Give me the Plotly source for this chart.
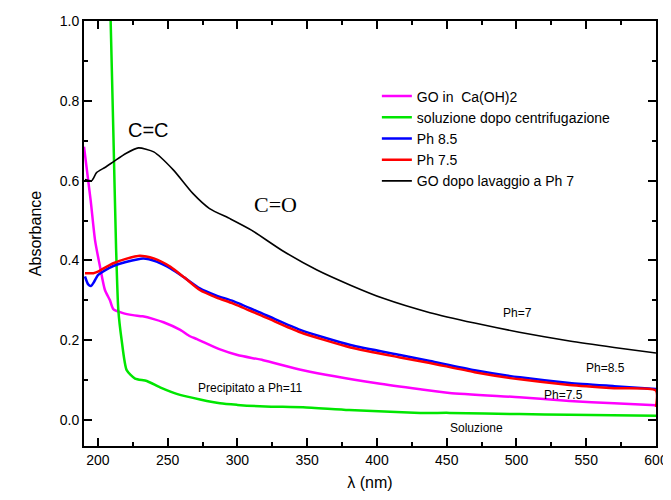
import plotly.graph_objects as go

# ---------------- data ----------------
mag_x = [190, 194.8, 197.9, 201.5, 205, 208.6, 211, 218, 225, 232, 240, 247, 259, 266, 271, 287.5, 300, 318.5, 347, 400, 431, 452, 502, 538, 570, 600]
mag_y = [0.685, 0.55, 0.451, 0.384, 0.326, 0.30, 0.278, 0.268, 0.263, 0.260, 0.253, 0.245, 0.226, 0.21, 0.203, 0.177, 0.163, 0.150, 0.125, 0.092, 0.077, 0.068, 0.057, 0.048, 0.042, 0.037]

grn_x = [208, 209.1, 211, 213, 214.6, 217, 220.6, 226.6, 235, 244.5, 258.8, 287.5, 300, 320, 347, 380, 431, 452, 502, 538, 600]
grn_y = [1.15, 1.0, 0.727, 0.43, 0.276, 0.2, 0.125, 0.104, 0.098, 0.082, 0.063, 0.042, 0.038, 0.034, 0.032, 0.025, 0.018, 0.018, 0.015, 0.013, 0.011]

blu_x = [190.7, 193, 195, 197, 200, 205, 211, 220, 232.5, 242, 252, 262, 273, 285, 297, 321, 345, 381, 416.5, 438, 470, 502.5, 538, 570, 600]
blu_y = [0.36, 0.34, 0.336, 0.345, 0.363, 0.375, 0.386, 0.396, 0.405, 0.397, 0.38, 0.357, 0.33, 0.312, 0.298, 0.262, 0.226, 0.188, 0.163, 0.148, 0.125, 0.107, 0.093, 0.085, 0.078]

red_x = [190.7, 196.7, 200, 205, 211, 220, 230, 240, 252, 262, 273, 285, 297, 321, 345, 381, 416.5, 438, 470, 502.5, 538, 570, 600, 600]
red_y = [0.368, 0.368, 0.372, 0.382, 0.393, 0.404, 0.412, 0.405, 0.384, 0.357, 0.326, 0.307, 0.292, 0.256, 0.22, 0.182, 0.157, 0.143, 0.12, 0.102, 0.088, 0.08, 0.074, 0.033]

blk_x = [190.7, 195.5, 199, 205, 211, 220, 229, 240, 254, 268, 280, 295, 310, 332, 357, 381, 404.5, 438, 470, 502, 538, 570, 600]
blk_y = [0.603, 0.600, 0.620, 0.633, 0.647, 0.668, 0.682, 0.672, 0.627, 0.568, 0.530, 0.504, 0.476, 0.425, 0.376, 0.338, 0.305, 0.269, 0.243, 0.22, 0.198, 0.182, 0.168]

names = ["GO in\u00a0 Ca(OH)2", "soluzione dopo centrifugazione", "Ph 8.5", "Ph 7.5", "GO dopo lavaggio a Ph 7"]
colors = ["#FF00FF", "#00E600", "#0000FF", "#FF0000", "#000000"]

x_range = [190, 600]
y_range = [-0.065, 1.0]
x_tick_start, x_tick_step = 200, 50
y_tick_start, y_tick_step = 0.0, 0.2

fig = go.Figure()
series = [(mag_x, mag_y, 2.5), (grn_x, grn_y, 2.5), (blu_x, blu_y, 2.5), (red_x, red_y, 2.5), (blk_x, blk_y, 1.6)]
for (xs, ys, w), nm, c in zip(series, names, colors):
    fig.add_trace(go.Scatter(x=xs, y=ys, mode="lines", name=nm,
                             line=dict(color=c, width=w, shape="spline", smoothing=0.6)))

# empty helper trace so the overlay axes (minor ticks) get drawn
fig.add_trace(go.Scatter(x=[], y=[], xaxis="x2", yaxis="y2", showlegend=False, hoverinfo="skip"))

font_sans = "Liberation Sans, Arial, sans-serif"
ann = [
    dict(x=236, y=0.727, text="C=C", font=dict(size=20, family=font_sans)),
    dict(x=327, y=0.539, text="C=O", font=dict(size=22, family="Liberation Serif, Times New Roman, serif")),
    dict(x=501, y=0.268, text="Ph=7", font=dict(size=12, family=font_sans)),
    dict(x=563.5, y=0.13, text="Ph=8.5", font=dict(size=12, family=font_sans)),
    dict(x=533.4, y=0.063, text="Ph=7.5", font=dict(size=12, family=font_sans)),
    dict(x=309, y=0.08, text="Precipitato a Ph=11", font=dict(size=12, family=font_sans)),
    dict(x=471, y=-0.02, text="Soluzione", font=dict(size=12, family=font_sans)),
]
for a in ann:
    fig.add_annotation(showarrow=False, xref="x", yref="y", **a)

# page body has an 8px margin, so the figure is 8px smaller and margins shifted
fig.update_layout(
    width=663, height=492,
    margin=dict(l=76, r=15, t=13, b=54),
    paper_bgcolor="white", plot_bgcolor="white",
    font=dict(family=font_sans, color="black", size=14),
    legend=dict(x=0.512, y=0.86, xanchor="left", yanchor="top",
                bgcolor="rgba(0,0,0,0)", font=dict(size=14), tracegroupgap=0,
                itemwidth=30),
    showlegend=True,
    xaxis=dict(range=x_range, tickmode="linear", tick0=x_tick_start, dtick=x_tick_step,
               ticks="inside", ticklen=8, tickwidth=1.5, tickcolor="black",
               showline=True, linecolor="black", linewidth=2, mirror="ticks",
               showgrid=False, zeroline=False, tickfont=dict(size=14), automargin="left",
               title=dict(text="λ (nm)", font=dict(size=16), standoff=10)),
    yaxis=dict(range=y_range, tickmode="linear", tick0=y_tick_start, dtick=y_tick_step,
               tickformat=".1f",
               ticks="inside", ticklen=8, tickwidth=1.5, tickcolor="black",
               showline=True, linecolor="black", linewidth=2, mirror="ticks",
               showgrid=False, zeroline=False, tickfont=dict(size=14), automargin="left",
               title=dict(text="Absorbance", font=dict(size=16), standoff=14)),
    xaxis2=dict(range=x_range, overlaying="x", anchor="y2", side="bottom",
                tickmode="linear", tick0=x_tick_start, dtick=x_tick_step / 2,
                ticks="inside", ticklen=4, tickwidth=1.5, tickcolor="black",
                showticklabels=False, showline=False, mirror="ticks", automargin="left",
                showgrid=False, zeroline=False),
    yaxis2=dict(range=y_range, overlaying="y", anchor="x2", side="left",
                tickmode="linear", tick0=y_tick_start, dtick=y_tick_step / 2,
                ticks="inside", ticklen=4, tickwidth=1.5, tickcolor="black",
                showticklabels=False, showline=False, mirror="ticks", automargin="left",
                showgrid=False, zeroline=False),
)

fig.write_html("out.html")
